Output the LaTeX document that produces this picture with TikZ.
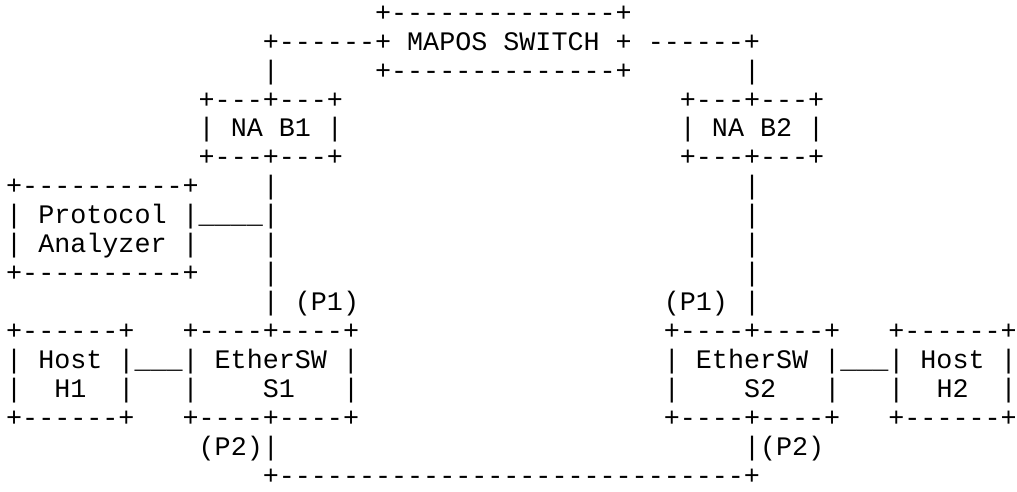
\documentclass[tikz,border=0pt]{standalone}
\usepackage{fontspec}
\setmonofont{Liberation Mono}
\begin{document}
\begin{tikzpicture}[x=1pt,y=1pt,
  txt/.style={anchor=base west, inner sep=0pt, text=black,
    font=\ttfamily\fontsize{26.73}{29}\selectfont}]
\newcommand\seg[4]{\node[txt] (#1) at ({6+16.04*#2},{492-(137+(#3-5)*28.94)}) {#4};}
\fill[white] (0,0) rectangle (1017,492);
\useasboundingbox (0,0) rectangle (1017,492);
% MAPOS switch
\seg{swtop}{23}{1}{+--------------+}
\seg{swmid}{16}{2}{+------+ MAPOS SWITCH + ------+}
\seg{linkLa}{16}{3}{|}
\seg{swbot}{23}{3}{+--------------+}
\seg{linkRa}{46}{3}{|}
% NA boxes
\seg{naBtop}{12}{4}{+---+---+}
\seg{naCtop}{42}{4}{+---+---+}
\seg{naB}{12}{5}{| NA B1 |}
\seg{naC}{42}{5}{| NA B2 |}
\seg{naBbot}{12}{6}{+---+---+}
\seg{naCbot}{42}{6}{+---+---+}
% Protocol analyzer
\seg{patop}{0}{7}{+----------+}
\seg{linkLb}{16}{7}{|}
\seg{linkRb}{46}{7}{|}
\seg{pa}{0}{8}{| Protocol |\_\_\_\_|}
\seg{linkRc}{46}{8}{|}
\seg{pb}{0}{9}{| Analyzer |}
\seg{linkLc}{16}{9}{|}
\seg{linkRd}{46}{9}{|}
\seg{pabot}{0}{10}{+----------+}
\seg{linkLd}{16}{10}{|}
\seg{linkRe}{46}{10}{|}
% ports P1
\seg{linkLe}{16}{11}{|}
\seg{pLone}{18}{11}{(P1)}
\seg{pRone}{41}{11}{(P1) |}
% hosts and ether switches
\seg{hAtop}{0}{12}{+------+}
\seg{sAtop}{11}{12}{+----+----+}
\seg{sBtop}{41}{12}{+----+----+}
\seg{hBtop}{55}{12}{+------+}
\seg{rowA}{0}{13}{| Host |\_\_\_| EtherSW |}
\seg{rowB}{41}{13}{| EtherSW |\_\_\_| Host |}
\seg{hAl}{0}{14}{|}
\seg{hAn}{3}{14}{H1}
\seg{hAr}{7}{14}{|}
\seg{sAl}{11}{14}{|}
\seg{sAn}{16}{14}{S1}
\seg{sAr}{21}{14}{|}
\seg{sBl}{41}{14}{|}
\seg{sBn}{46}{14}{S2}
\seg{sBr}{51}{14}{|}
\seg{hBl}{55}{14}{|}
\seg{hBn}{58}{14}{H2}
\seg{hBr}{62}{14}{|}
\seg{hAbot}{0}{15}{+------+}
\seg{sAbot}{11}{15}{+----+----+}
\seg{sBbot}{41}{15}{+----+----+}
\seg{hBbot}{55}{15}{+------+}
% ports P2 and bottom link
\seg{pLtwo}{12}{16}{(P2)|}
\seg{pRtwo}{46}{16}{|(P2)}
\seg{bottom}{16}{17}{+-----------------------------+}
\end{tikzpicture}
\end{document}
